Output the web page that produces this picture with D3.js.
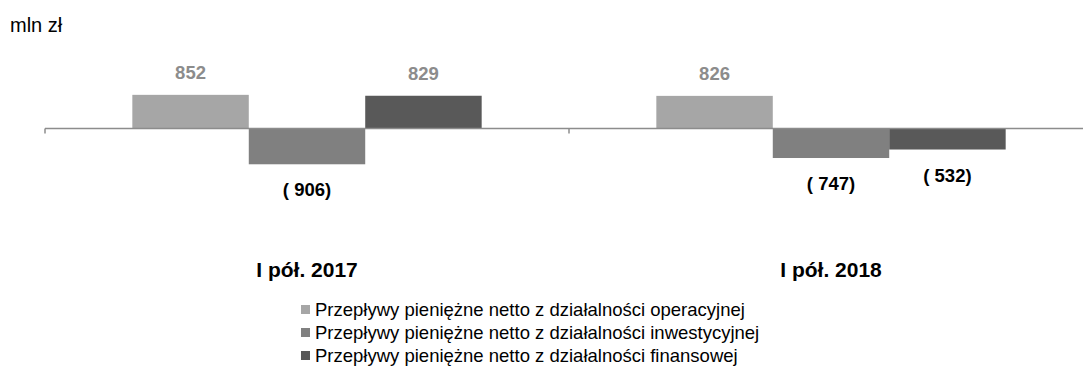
<!DOCTYPE html>
<html>
<head>
<meta charset="utf-8">
<script src="https://cdn.jsdelivr.net/npm/d3@7"></script>
<style>
  html, body { margin: 0; padding: 0; background: #fff; }
  svg { display: block; font-family: Arial, "Liberation Sans", sans-serif; }
</style>
</head>
<body>
<svg id="chart" width="1083" height="367"></svg>
<script>
// Cash flow by activity, first half-years (mln zł)
const periods = ["I pół. 2017", "I pół. 2018"];
const seriesNames = [
  "Przepływy pieniężne netto z działalności operacyjnej",
  "Przepływy pieniężne netto z działalności inwestycyjnej",
  "Przepływy pieniężne netto z działalności finansowej"
];
const operating = [852, 826];
const investing = [-906, -747];
const financing = [829, -532];
const unitLabel = "mln zł";

const colors = ["#a6a6a6", "#808080", "#595959"];
const seriesValues = [operating, investing, financing];

const svg = d3.select("#chart");

const x0 = d3.scaleBand().domain(periods).range([45, 1093]).padding(0);
const x1 = d3.scaleBand().domain(d3.range(seriesNames.length))
  .range([0, x0.bandwidth()]).paddingInner(0).paddingOuter(0.75);
const y = d3.scaleLinear().domain([-1000, 1000]).range([168, 89]);

const fmt = v => v < 0 ? "( " + Math.abs(v) + ")" : String(v);

// unit caption
svg.append("text").attr("x", 10).attr("y", 32)
  .attr("font-size", 20).attr("fill", "#000").text(unitLabel);

// bars
const rows = [];
periods.forEach((p, i) => {
  seriesValues.forEach((vals, s) => rows.push({ p, s, v: vals[i] }));
});

svg.append("g").selectAll("rect").data(rows).join("rect")
  .attr("x", d => x0(d.p) + x1(d.s))
  .attr("width", x1.bandwidth())
  .attr("y", d => Math.min(y(d.v), y(0)))
  .attr("height", d => Math.abs(y(d.v) - y(0)))
  .attr("fill", d => colors[d.s]);

// zero axis with ticks at period boundaries
const axis = svg.append("g").attr("stroke", "#8c8c8c").attr("stroke-width", 1.5);
axis.append("line").attr("x1", x0.range()[0]).attr("x2", x0.range()[1])
  .attr("y1", y(0)).attr("y2", y(0));
periods.concat([null]).forEach(p => {
  const tx = p === null ? x0.range()[1] : x0(p);
  axis.append("line").attr("x1", tx).attr("x2", tx)
    .attr("y1", y(0)).attr("y2", y(0) + 5);
});

// value labels
svg.append("g").selectAll("text").data(rows).join("text")
  .attr("x", d => x0(d.p) + x1(d.s) + x1.bandwidth() / 2)
  .attr("y", d => d.v >= 0 ? y(d.v) - 16 : y(d.v) + 32)
  .attr("text-anchor", "middle")
  .attr("font-size", 18.5).attr("font-weight", "bold")
  .attr("fill", d => d.v >= 0 ? "#8c8c8c" : "#000")
  .text(d => fmt(d.v));

// period labels
svg.append("g").selectAll("text").data(periods).join("text")
  .attr("x", d => x0(d) + x0.bandwidth() / 2)
  .attr("y", 277)
  .attr("text-anchor", "middle")
  .attr("font-size", 21).attr("font-weight", "bold")
  .text(d => d);

// legend
const legend = svg.append("g").attr("transform", "translate(301,0)");
seriesNames.forEach((name, s) => {
  const base = 316 + s * 23;
  legend.append("rect").attr("x", 0).attr("y", base - 11)
    .attr("width", 9).attr("height", 9).attr("fill", colors[s]);
  legend.append("text").attr("x", 14).attr("y", base)
    .attr("font-size", 18.5).attr("fill", "#000").text(name);
});
</script>
</body>
</html>
